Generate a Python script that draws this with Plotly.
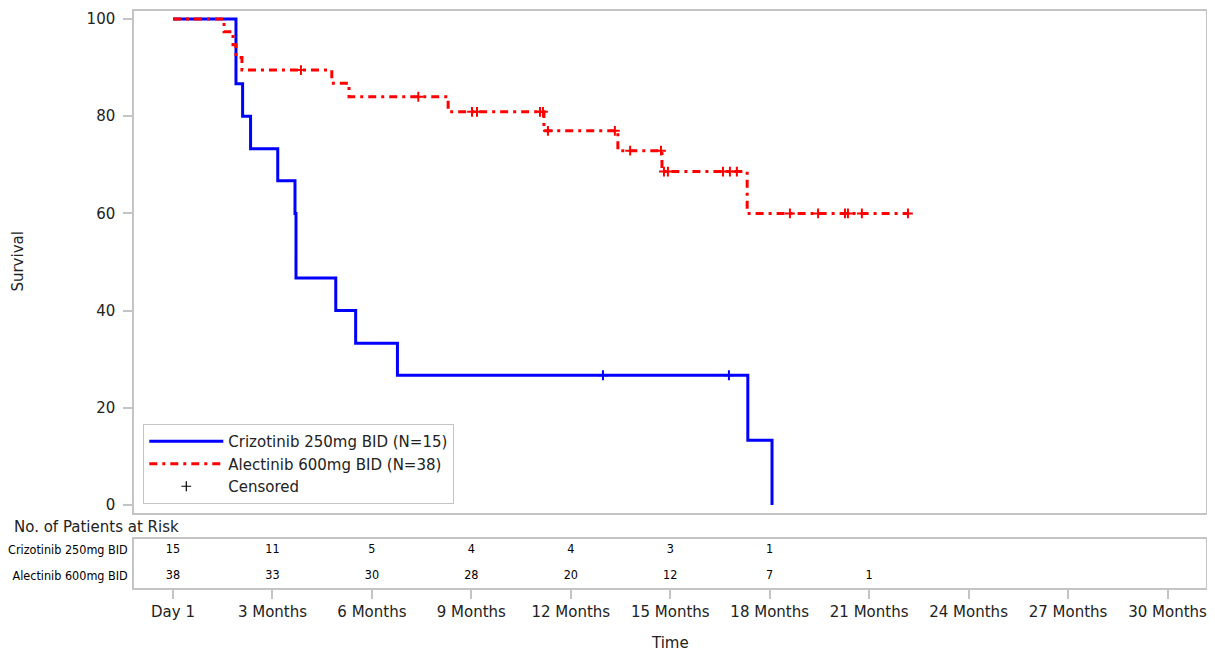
import plotly.graph_objects as go

# ---------------- data ----------------
criz_name = "Crizotinib 250mg BID (N=15)"
alec_name = "Alectinib 600mg BID (N=38)"

criz_time = [0, 1.90, 2.10, 2.34, 3.16, 3.68, 3.71, 4.91, 5.51, 6.77, 17.34, 18.07]
criz_surv = [100, 86.7, 80.0, 73.3, 66.7, 60.0, 46.7, 40.0, 33.3, 26.7, 13.3, 0]
criz_cens_time = [12.97, 16.77]
criz_cens_surv = [26.7, 26.7]

alec_time = [0, 1.54, 1.81, 1.90, 2.08, 4.79, 5.31, 8.30, 11.19, 13.42, 14.75, 17.32, 22.17]
alec_surv = [100, 97.4, 94.7, 92.1, 89.5, 86.8, 84.0, 80.9, 77.0, 72.9, 68.6, 60.0, 60.0]
alec_cens_time = [3.86, 7.40, 9.02, 9.17, 11.07, 11.16, 11.31, 13.33, 13.79, 14.72,
                  14.81, 14.93, 16.59, 16.80, 17.01, 18.61, 19.46, 20.27, 20.36, 20.78, 22.17]
alec_cens_surv = [89.5, 84.0, 80.9, 80.9, 80.9, 80.9, 77.0, 77.0, 72.9, 72.9,
                  68.6, 68.6, 68.6, 68.6, 68.6, 60.0, 60.0, 60.0, 60.0, 60.0, 60.0]

tick_vals = [0, 3, 6, 9, 12, 15, 18, 21, 24, 27, 30]
tick_text = ["Day 1", "3 Months", "6 Months", "9 Months", "12 Months", "15 Months",
             "18 Months", "21 Months", "24 Months", "27 Months", "30 Months"]

risk_times_criz = [0, 3, 6, 9, 12, 15, 18]
risk_criz = [15, 11, 5, 4, 4, 3, 1]
risk_times_alec = [0, 3, 6, 9, 12, 15, 18, 21]
risk_alec = [38, 33, 30, 28, 20, 12, 7, 1]
risk_labels = ["Crizotinib 250mg BID", "Alectinib 600mg BID"]

# ---------------- style ----------------
FONT = "DejaVu Sans"
COND = "DejaVu Sans Condensed, DejaVu Sans"
GRAY = "#c4c4c4"
BLUE = "rgb(0,0,255)"
RED = "rgb(255,0,0)"
W, H = 1207, 643
OFF = 8  # page offset of the figure inside the window


def px(v):
    return v - OFF


def py(v):
    return (H - (v - OFF)) / H


fig = go.Figure()

fig.add_trace(go.Scatter(x=criz_time, y=criz_surv, mode="lines", line_shape="hv",
                         line=dict(color=BLUE, width=3), name=criz_name))
fig.add_trace(go.Scatter(x=alec_time, y=alec_surv, mode="lines", line_shape="hv",
                         line=dict(color=RED, width=3, dash="8px,5px,3px,5px"),
                         name=alec_name))
fig.add_trace(go.Scatter(x=criz_cens_time, y=criz_cens_surv, mode="markers",
                         marker=dict(symbol="cross-thin", size=7, color=BLUE,
                                     line=dict(color=BLUE, width=2)),
                         showlegend=False, hoverinfo="skip"))
fig.add_trace(go.Scatter(x=alec_cens_time, y=alec_cens_surv, mode="markers",
                         marker=dict(symbol="cross-thin", size=7, color=RED,
                                     line=dict(color=RED, width=2)),
                         showlegend=False, hoverinfo="skip"))
fig.add_trace(go.Scatter(x=[None], y=[None], mode="markers", name="Censored",
                         marker=dict(symbol="cross-thin", size=7, color="black",
                                     line=dict(color="black", width=1.2))))

# risk table
fig.add_trace(go.Scatter(x=risk_times_criz, y=[1] * len(risk_criz), mode="text",
                         text=[str(v) for v in risk_criz], xaxis="x2", yaxis="y2",
                         textfont=dict(family=COND, size=12.5, color="black"),
                         showlegend=False, hoverinfo="skip"))
fig.add_trace(go.Scatter(x=risk_times_alec, y=[0] * len(risk_alec), mode="text",
                         text=[str(v) for v in risk_alec], xaxis="x2", yaxis="y2",
                         textfont=dict(family=COND, size=12.5, color="black"),
                         showlegend=False, hoverinfo="skip"))

L, R, T, B = 134, 1206, 10.7, 512.5
RT, RB = 539.3, 588.3
xr = [(L - 173) / 33.15, (R - 173) / 33.15]

fig.update_layout(
    width=W, height=H,
    margin=dict(l=px(L), r=W - px(R), t=0, b=0),
    paper_bgcolor="white", plot_bgcolor="white",
    font=dict(family=FONT, size=15, color="#222"),
    showlegend=True,
    legend=dict(x=(143.3 - L) / (R - L), y=py(504), xanchor="left", yanchor="bottom",
                bgcolor="white", bordercolor=GRAY, borderwidth=1,
                font=dict(family=FONT, size=15, color="#222"),
                itemwidth=74, tracegroupgap=0),
    xaxis=dict(domain=[0, 1], range=xr, anchor="y", showline=True, mirror=True,
               linecolor=GRAY, linewidth=1.5, showgrid=False, zeroline=False,
               showticklabels=False, ticks="", automargin=False),
    yaxis=dict(domain=[py(B), py(T)], range=[-7.5 / 4.86, 100 + (19 - T) / 4.86],
               showline=True, mirror=True, linecolor=GRAY, linewidth=1.5,
               showgrid=False, zeroline=False, ticks="outside", ticklen=9,
               tickcolor=GRAY, tickwidth=1.5, tickvals=[0, 20, 40, 60, 80, 100],
               ticklabelstandoff=5, automargin=False),
    xaxis2=dict(domain=[0, 1], range=xr, anchor="y2", showline=True, mirror=True,
                linecolor=GRAY, linewidth=1.5, showgrid=False, zeroline=False,
                ticks="outside", ticklen=9, tickcolor=GRAY, tickwidth=1.5,
                tickvals=tick_vals, ticktext=tick_text, automargin=False),
    yaxis2=dict(domain=[py(RB), py(RT)], range=[-(RB - 576) / 26, 1 + (550 - RT) / 26],
                showline=True, mirror=True, linecolor=GRAY, linewidth=1.5,
                showgrid=False, zeroline=False, ticks="", tickvals=[1, 0],
                ticktext=risk_labels, tickfont=dict(family=COND, size=12.5, color="black"),
                ticklabelstandoff=2, automargin=False),
    annotations=[
        dict(text="Survival", textangle=-90, xref="paper", yref="paper",
             x=(18 - L) / (R - L), y=py((T + B) / 2), xanchor="center", yanchor="middle",
             showarrow=False, font=dict(family=FONT, size=15, color="#222")),
        dict(text="No. of Patients at Risk", xref="paper", yref="paper",
             x=(12 - L) / (R - L), y=py(527), xanchor="left", yanchor="middle",
             showarrow=False, font=dict(family=FONT, size=15, color="#222")),
        dict(text="Time", xref="paper", yref="paper",
             x=0.5, y=py(643), xanchor="center", yanchor="middle",
             showarrow=False, font=dict(family=FONT, size=15, color="#222")),
    ],
)

fig.write_html("out.html")
